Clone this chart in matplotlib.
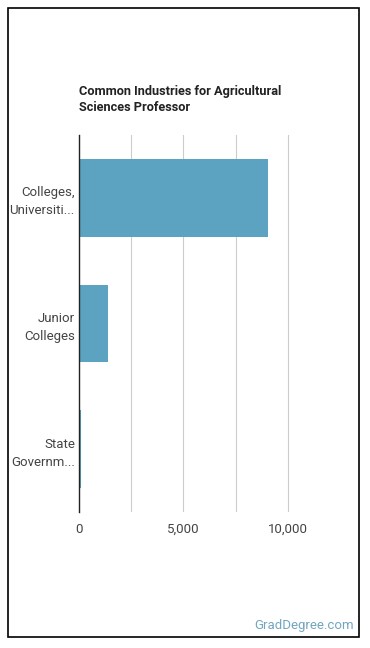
import matplotlib.pyplot as plt
from matplotlib.patches import Rectangle

# Common industries for agricultural sciences professors
industries = ["Colleges,\nUniversiti...", "Junior\nColleges", "State\nGovernm..."]
employed = [9040, 1390, 80]
grid_ticks = [0, 2500, 5000, 7500, 10000]
grid_labels = ["0", "", "5,000", "", "10,000"]

plt.rcParams['font.family'] = ['Roboto', 'DejaVu Sans']

fig = plt.figure(figsize=(3.70, 6.48), dpi=100)

# outer frame
fig.patches.append(Rectangle((8/370, 1-637/648), 351/370, 629/648,
                             transform=fig.transFigure, fill=False,
                             edgecolor='black', linewidth=1.2))

ax = fig.add_axes([79/370, 1-512/648, 212/370, 377/648])
ypos = list(range(len(industries)))
ax.barh(ypos, employed, height=0.62, color='#5ba3c0')
ax.set_ylim(len(industries)-0.5, -0.5)
ax.set_xlim(0, 10150)

ax.set_xticks(grid_ticks)
ax.set_xticklabels(grid_labels)
ax.set_yticks(ypos)
ax.set_yticklabels(industries, linespacing=1.5)
ax.tick_params(axis='both', length=0, labelsize=9.5, colors='#444444')
ax.tick_params(axis='x', pad=8)
ax.tick_params(axis='y', pad=3)
ax.grid(axis='x', color='#cccccc', linewidth=0.8)
ax.set_axisbelow(True)
for s in ['top', 'right', 'bottom']:
    ax.spines[s].set_visible(False)
ax.spines['left'].set_color('#222222')
ax.spines['left'].set_linewidth(1.0)

fig.text(79/370, 1-99.5/648, "Common Industries for Agricultural\nSciences Professor",
         fontsize=9.2, fontweight='bold', color='#222222', va='center', ha='left',
         linespacing=1.3)

fig.text(354/370, 1-625/648, "GradDegree.com", fontsize=9.5,
         color='#72a6bf', ha='right', va='center')

fig.savefig("out.png", dpi=100)
